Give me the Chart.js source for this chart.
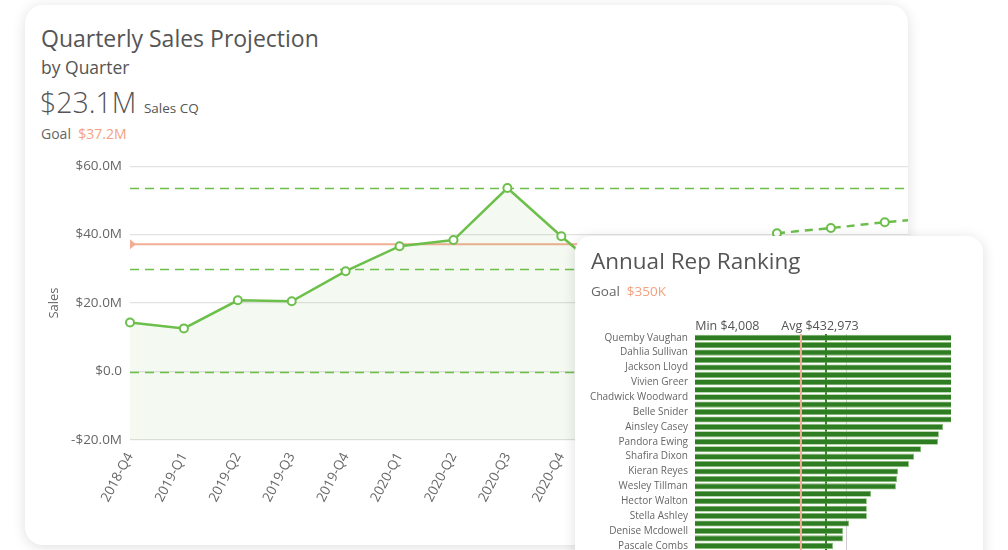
<!DOCTYPE html>
<html>
<head>
<meta charset="utf-8">
<script src="https://cdn.jsdelivr.net/npm/chart.js@4.4.1/dist/chart.umd.min.js"></script>
<style>
  html, body { margin: 0; padding: 0; background: #fff; width: 1008px; height: 550px; overflow: hidden; }
  body { position: relative; font-family: "Open Sans", sans-serif; color: #555; }
  .card { position: absolute; background: #fff; border-radius: 18px; overflow: hidden;
          box-shadow: 0 2px 14px rgba(0,0,0,0.13); }
  #salesCard { left: 25px; top: 5px; width: 883px; height: 540px; z-index: 1; }
  #rankCard { left: 575px; top: 236px; width: 408px; height: 360px; z-index: 2; border-radius: 16px; }
  .txt { position: absolute; white-space: nowrap; }
  .goal { color: #f4a282; }
  canvas { position: absolute; }
</style>
</head>
<body>
<div class="card" id="salesCard">
  <div class="txt" style="left:16px;top:17px;font-size:23px;">Quarterly Sales Projection</div>
  <div class="txt" style="left:16px;top:50px;font-size:17.5px;">by Quarter</div>
  <div class="txt" style="left:15px;top:78px;font-size:28.5px;font-weight:300;">$23.1M <span style="font-size:13.5px;font-weight:400;">Sales CQ</span></div>
  <div class="txt" style="left:16px;top:119px;font-size:14px;color:#666;">Goal&nbsp; <span class="goal">$37.2M</span></div>
  <canvas id="salesChart" width="915" height="355" style="left:15px;top:145px;"></canvas>
</div>
<div class="card" id="rankCard">
  <div class="txt" style="left:16px;top:9px;font-size:22.5px;">Annual Rep Ranking</div>
  <div class="txt" style="left:16px;top:46px;font-size:13.5px;color:#666;">Goal&nbsp; <span class="goal">$350K</span></div>
  <canvas id="rankChart" width="376" height="265" style="left:0px;top:69px;"></canvas>
</div>
<script>
// quarterly sales, $M
const quarters = ['2018-Q4', '2019-Q1', '2019-Q2', '2019-Q3', '2019-Q4', '2020-Q1', '2020-Q2', '2020-Q3',
  '2020-Q4', '2021-Q1', '2021-Q2', '2021-Q3', '2021-Q4', '2022-Q1', '2022-Q2', '2022-Q3'];
const salesActual = [14.3, 12.6, 20.8, 20.5, 29.3, 36.6, 38.4, 53.6, 39.5, 26.0, null, null, null, null, null, null];
const salesProjected = [null, null, null, null, null, null, null, null, null, null, null, null, 40.4, 41.9, 43.6, 45.0];
const salesGoal = 37.2;
const bandLines = [53.6, 29.9, 0];
const salesTicks = [-20, 0, 20, 40, 60];

// rep ranking, $K (only every other rep is labelled in the picture)
const repNames = ['Quemby Vaughan', 'Dahlia Sullivan', 'Jackson Lloyd', 'Vivien Greer', 'Chadwick Woodward',
  'Belle Snider', 'Ainsley Casey', 'Pandora Ewing', 'Shafira Dixon', 'Kieran Reyes', 'Wesley Tillman',
  'Hector Walton', 'Stella Ashley', 'Denise Mcdowell', 'Pascale Combs'];
const repSales = [1420, 1310, 1250, 1190, 1120, 1060, 1010, 975, 940, 910, 880, 855,
  820, 806, 803, 747, 724, 707, 671, 668, 664, 582, 568, 568, 568, 509, 489, 489, 456, 456];
const repGoal = 350;
const repMin = 4.008;
const repAvg = 432.973;

const green = '#6dbf4b';
const salmon = '#f2ae95';
const darkGreen = '#2f7d22';

const fmtM = v => (v < 0 ? '-$' : '$') + Math.abs(v).toFixed(1) + (v === 0 ? '' : 'M');

const salesLines = {
  id: 'salesLines',
  beforeDatasetsDraw(chart) {
    const { ctx, chartArea: a, scales: { y } } = chart;
    ctx.save();
    ctx.lineWidth = 1.5;
    ctx.strokeStyle = green;
    ctx.setLineDash([9, 6]);
    bandLines.forEach(v => {
      const py = Math.round(y.getPixelForValue(v)) + 0.5;
      ctx.beginPath(); ctx.moveTo(a.left, py); ctx.lineTo(a.right, py); ctx.stroke();
    });
    ctx.setLineDash([]);
    const gy = y.getPixelForValue(salesGoal);
    ctx.strokeStyle = salmon;
    ctx.lineWidth = 2;
    ctx.beginPath(); ctx.moveTo(a.left, gy); ctx.lineTo(a.right, gy); ctx.stroke();
    ctx.fillStyle = salmon;
    ctx.beginPath(); ctx.moveTo(a.left, gy - 5); ctx.lineTo(a.left + 6, gy); ctx.lineTo(a.left, gy + 5); ctx.closePath(); ctx.fill();
    ctx.restore();
  }
};

new Chart(document.getElementById('salesChart'), {
  type: 'line',
  data: {
    labels: quarters,
    datasets: [{
      label: 'Sales',
      data: salesActual,
      borderColor: green,
      borderWidth: 2.5,
      backgroundColor: 'rgba(109,191,75,0.08)',
      fill: 'start',
      pointRadius: 4,
      pointBorderWidth: 2,
      pointBackgroundColor: '#fff',
      pointBorderColor: green,
      tension: 0
    }, {
      label: 'Projection',
      data: salesProjected,
      borderColor: green,
      borderWidth: 2.5,
      borderDash: [8, 6],
      fill: false,
      pointRadius: 4,
      pointBorderWidth: 2,
      pointBackgroundColor: '#fff',
      pointBorderColor: green,
      tension: 0
    }]
  },
  options: {
    responsive: false,
    animation: false,
    layout: { padding: { top: 16, right: 0, left: 0, bottom: 0 } },
    plugins: { legend: { display: false }, tooltip: { enabled: false } },
    scales: {
      x: {
        offset: false,
        grid: { display: false },
        border: { display: false },
        ticks: { color: '#666', font: { family: 'Open Sans', size: 13.5 }, minRotation: 62, maxRotation: 62, autoSkip: false, padding: 2 },
        afterFit: s => { s.height = 65; }
      },
      y: {
        min: -20, max: 60,
        afterBuildTicks: s => { s.ticks = salesTicks.map(v => ({ value: v })); },
        grid: { color: '#e2e2e2', drawTicks: false, lineWidth: 1.2 },
        border: { display: false },
        ticks: { color: '#666', font: { family: 'Open Sans', size: 13.5 }, padding: 8, callback: v => fmtM(v) },
        title: { display: true, text: 'Sales', color: '#666', font: { family: 'Open Sans', size: 13 }, padding: { top: 6, bottom: 0 } },
        afterFit: s => { s.width = 90; }
      }
    }
  },
  plugins: [salesLines]
});

const repLabels = repSales.map((v, i) => (i % 2 === 0 ? repNames[i / 2] : ''));

const rankMarks = {
  id: 'rankMarks',
  beforeDatasetsDraw(chart) {
    const { ctx, chartArea: a, scales: { x } } = chart;
    const px = x.getPixelForValue(repAvg);
    ctx.save();
    ctx.strokeStyle = darkGreen;
    ctx.lineWidth = 2;
    ctx.beginPath(); ctx.moveTo(px, a.top); ctx.lineTo(px, a.bottom); ctx.stroke();
    ctx.restore();
  },
  afterDatasetsDraw(chart) {
    const { ctx, chartArea: a, scales: { x } } = chart;
    const gx = x.getPixelForValue(repGoal);
    ctx.save();
    ctx.strokeStyle = salmon;
    ctx.lineWidth = 2;
    ctx.beginPath(); ctx.moveTo(gx, a.top); ctx.lineTo(gx, a.bottom); ctx.stroke();
    ctx.font = '12.5px "Open Sans"';
    ctx.fillStyle = '#555';
    ctx.textBaseline = 'bottom';
    ctx.textAlign = 'left';
    ctx.fillText('Min $' + Math.round(repMin * 1000).toLocaleString('en-US'), x.getPixelForValue(repMin) - 1, a.top - 1);
    ctx.textAlign = 'center';
    ctx.fillText('Avg $' + Math.round(repAvg * 1000).toLocaleString('en-US'), x.getPixelForValue(repAvg) - 6, a.top - 1);
    ctx.restore();
  }
};

new Chart(document.getElementById('rankChart'), {
  type: 'bar',
  data: {
    labels: repLabels,
    datasets: [{
      label: 'Annual Sales',
      data: repSales,
      backgroundColor: darkGreen,
      borderColor: 'rgba(120,180,100,0.9)',
      borderWidth: 0.8,
      barPercentage: 0.82,
      categoryPercentage: 1
    }]
  },
  options: {
    indexAxis: 'y',
    responsive: false,
    animation: false,
    layout: { padding: { top: 29, right: 0, left: 0, bottom: 0 } },
    plugins: { legend: { display: false }, tooltip: { enabled: false } },
    scales: {
      x: {
        min: 0, max: 846,
        afterBuildTicks: s => { s.ticks = [{ value: 500 }]; },
        grid: { color: '#d0d0d0', drawTicks: false },
        border: { display: false },
        ticks: { display: false },
        afterFit: s => { s.height = 0; }
      },
      y: {
        grid: { display: false, drawTicks: false },
        border: { display: false },
        ticks: { color: '#666', font: { family: 'Open Sans', size: 10 }, padding: 7, autoSkip: false },
        afterFit: s => { s.width = 120; }
      }
    }
  },
  plugins: [rankMarks]
});
</script>
</body>
</html>
